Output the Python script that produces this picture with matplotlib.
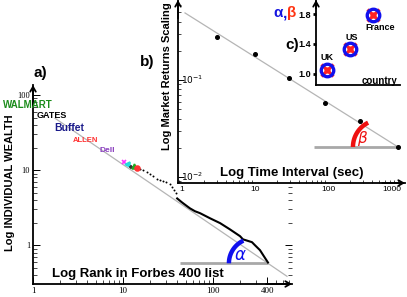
import numpy as np
import matplotlib
matplotlib.use('Agg')
import matplotlib.pyplot as plt
from matplotlib.ticker import LogLocator, NullFormatter

W, H = 407, 297
plt.rcParams['font.family'] = ['Liberation Sans', 'DejaVu Sans']

# ---------------- data ----------------
# Panel a: Forbes 400 wealth (billions) vs rank
rank_top = [15.4, 16.7, 18.5, 20, 21.5, 23.9, 25.8, 27.8, 30, 33, 35, 36.8, 38.8]
wealth_top = [10.3, 10.0, 9.4, 8.8, 8.3, 7.6, 7.4, 7.1, 6.9, 6.5, 5.9, 5.4, 4.9]
rank_tail = [40, 45, 50, 55.5, 63, 72, 92.5, 120, 154, 200, 215, 271, 293, 333, 369, 408]
wealth_tail = [4.2, 3.74, 3.4, 3.1, 2.84, 2.67, 2.29, 1.97, 1.63, 1.32, 1.2, 1.1, 1.0, 0.86, 0.71, 0.59]
mark_rank = [10.3, 11.1, 12.3, 13.2, 14.3]
mark_wealth = [12.8, 12.0, 11.0, 11.3, 10.6]
fit_a_rank = [1.76, 664]
fit_a_wealth = [49, 0.386]
base_a_rank = [43, 408]
base_a_wealth = [0.58, 0.58]
a_xticks = [1, 10, 100, 400]
a_xlabels = ['1', '10', '100', '400']
a_yticks = [1, 10, 100]
a_ylabels = ['1', '10', '100']

# Panel b: market returns scaling vs time interval
interval = [3.0, 10, 29, 91, 274, 910]
scaling = [0.277, 0.185, 0.105, 0.058, 0.038, 0.0204]
fit_b_x = [1.1, 910]
fit_b_y = [0.491, 0.0204]
base_b_x = [64, 910]
base_b_y = [0.0204, 0.0204]
b_xticks = [1, 10, 100, 1000]
b_xlabels = ['1', '10', '100', '1000']

# Panel c: exponents by country
countries = ['UK', 'US', 'France']
exponent = [1.05, 1.33, 1.79]
c_yticks = [1.0, 1.4, 1.8]
c_ylabels = ['1.0', '1.4', '1.8']

fig = plt.figure(figsize=(W / 100, H / 100), dpi=100)
fig.patch.set_facecolor('white')


def fx(x):
    return x / W


def fy(y):
    return 1 - y / H


def axis_arrows(ax, xarrow=True, yarrow=True):
    kw = dict(arrowstyle='->,head_length=0.35,head_width=0.2', lw=1.3, color='black',
              shrinkA=0, shrinkB=0)
    if yarrow:
        ax.annotate('', xy=(0, 1.0), xytext=(0, 0.9), xycoords='axes fraction',
                    arrowprops=kw, annotation_clip=False)
    if xarrow:
        ax.annotate('', xy=(1.0, 0), xytext=(0.9, 0), xycoords='axes fraction',
                    arrowprops=kw, annotation_clip=False)


def arc(ax, cx, cy, r, t1, t2, **kw):
    fig.canvas.draw()
    c = ax.transData.transform((cx, cy))
    t = np.radians(np.linspace(t1, t2, 60))
    pts = np.column_stack([c[0] + r * np.cos(t), c[1] + r * np.sin(t)])
    d = ax.transData.inverted().transform(pts)
    ax.plot(d[:, 0], d[:, 1], solid_capstyle='butt', clip_on=False, **kw)


# ---------------- panel a ----------------
ax = fig.add_axes([fx(33), fy(284), fx(292 - 33), (284 - 85) / H])
ax.set_xscale('log')
ax.set_yscale('log')
ax.set_xlim(1, 755)
ax.set_ylim(0.305, 136)
for s in ['top', 'right']:
    ax.spines[s].set_visible(False)
for s in ['left', 'bottom']:
    ax.spines[s].set_linewidth(1.3)
ax.plot(fit_a_rank, fit_a_wealth, color='#b5b5b5', lw=0.9, zorder=1)
ax.plot(base_a_rank, base_a_wealth, color='#a8a8a8', lw=2, zorder=1, solid_capstyle='butt')
ax.plot(rank_top, wealth_top, 'o', color='black', ms=1.4, mew=0, zorder=3)
ax.plot(rank_tail, wealth_tail, '-', color='black', lw=1.5, zorder=3)
mstyles = [('x', '#ff33ff'), ('<', '#22dddd'), ('+', '#333333'), ('^', '#22aa22'), ('o', '#ff3333')]
for (m, col), xr, yw in zip(mstyles, mark_rank, mark_wealth):
    ax.plot([xr], [yw], m, color=col, ms=3.5, mew=1.2, zorder=4)
ax.set_xticks(a_xticks)
ax.set_xticklabels(a_xlabels)
ax.set_yticks(a_yticks)
ax.set_yticklabels(a_ylabels)
ax.xaxis.set_minor_locator(LogLocator(base=10, subs=np.arange(2, 10)))
ax.yaxis.set_minor_locator(LogLocator(base=10, subs=np.arange(2, 10)))
ax.xaxis.set_minor_formatter(NullFormatter())
ax.yaxis.set_minor_formatter(NullFormatter())
ax.tick_params(which='major', direction='in', length=5, width=0.7, labelsize=6.5, pad=2)
ax.tick_params(axis='y', which='major', labelsize=6)
ax.tick_params(which='minor', direction='in', length=3, width=0.5)
ax.tick_params(axis='y', which='both', right=True)
for lab in ax.get_xticklabels() + ax.get_yticklabels():
    lab.set_family(['Liberation Serif', 'DejaVu Serif'])
axis_arrows(ax)
arc(ax, 285, 0.575, 25, 180, 115, color='#1010ee', lw=3.2, zorder=5)
ax.text(fx(240), fy(255), '$\\alpha$', transform=fig.transFigure, color='#1010ee',
        fontsize=12, ha='center', va='center')

# ---------------- panel b ----------------
bx = fig.add_axes([fx(178), fy(183), fx(405 - 178), 183 / H])
bx.set_facecolor('white')
bx.set_xscale('log')
bx.set_yscale('log')
bx.set_xlim(10 ** (-4 / 73), 10 ** ((405 - 182) / 73))
bx.set_ylim(10 ** (-2 - 6 / 97), 10 ** (-1 + 80 / 97))
for s in ['top', 'right']:
    bx.spines[s].set_visible(False)
for s in ['left', 'bottom']:
    bx.spines[s].set_linewidth(1.3)
bx.plot(fit_b_x, fit_b_y, color='#b5b5b5', lw=0.9, zorder=1)
bx.plot(base_b_x, base_b_y, color='#a8a8a8', lw=2, zorder=1, solid_capstyle='butt')
bx.plot(interval, scaling, 'o', color='black', ms=2.6, zorder=3)
bx.set_xticks(b_xticks)
bx.set_xticklabels(b_xlabels)
bx.set_yticks([0.01, 0.1])
bx.set_yticklabels(['$10^{-2}$', '$10^{-1}$'])
bx.xaxis.set_minor_locator(LogLocator(base=10, subs=np.arange(2, 10)))
bx.yaxis.set_minor_locator(LogLocator(base=10, subs=np.arange(2, 10)))
bx.xaxis.set_minor_formatter(NullFormatter())
bx.yaxis.set_minor_formatter(NullFormatter())
bx.tick_params(which='major', direction='in', length=4, width=0.7, labelsize=6.5)
bx.tick_params(which='minor', direction='in', length=2.5, width=0.5)
bx.tick_params(axis='x', which='major', length=0, pad=2, labelsize=6)
bx.tick_params(axis='y', which='major', pad=-2)
for lab in bx.get_yticklabels():
    lab.set_ha('left')
    lab.set_va('center')
bx.get_xticklabels()[-1].set_ha('right')
axis_arrows(bx)
arc(bx, 515, 0.0204, 27, 180, 116, color='#ee1111', lw=3.2, zorder=5)
bx.text(fx(363), fy(138), '$\\beta$', transform=fig.transFigure, color='#ee1111',
        fontsize=11, ha='center', va='center')

# ---------------- panel c ----------------
cx = fig.add_axes([fx(316), fy(85), fx(400 - 316), 85 / H])
cx.set_facecolor('white')
cx.set_xlim(-0.478, 3.17)
cx.set_ylim(0.853, 1.987)
for s in ['top', 'right']:
    cx.spines[s].set_visible(False)
for s in ['left', 'bottom']:
    cx.spines[s].set_linewidth(1.3)
xpos = np.arange(len(countries))
cx.plot(xpos, exponent, 'x', color='#ff2222', ms=9, mew=2.2, zorder=2)
cx.plot(xpos, exponent, 'o', mfc='none', mec='#1111ee', ms=9, mew=2.4, zorder=3)
cx.plot(xpos, exponent, 'o', color='#ff2222', ms=3.5, zorder=4)
cx.set_xticks([])
cx.set_yticks(c_yticks)
cx.set_yticklabels(c_ylabels, fontweight='bold')
cx.tick_params(axis='y', direction='out', length=2.5, width=2, labelsize=6.5, pad=1)
axis_arrows(cx, xarrow=False)
cx.text(fx(327), fy(58), countries[0], transform=fig.transFigure, fontsize=6.5,
        fontweight='bold', ha='center', va='center')
cx.text(fx(352), fy(38), countries[1], transform=fig.transFigure, fontsize=6.5,
        fontweight='bold', ha='center', va='center')
cx.text(fx(380), fy(28), countries[2], transform=fig.transFigure, fontsize=6.5,
        fontweight='bold', ha='center', va='center')
cx.text(fx(379), fy(81), 'country', transform=fig.transFigure, fontsize=7,
        fontweight='bold', ha='center', va='center')

# ---------------- figure texts ----------------
fig.text(fx(40), fy(73), 'a)', fontsize=11, fontweight='bold', ha='center', va='center')
fig.text(fx(147), fy(62), 'b)', fontsize=11, fontweight='bold', ha='center', va='center')
fig.text(fx(292), fy(45), 'c)', fontsize=11, fontweight='bold', ha='center', va='center')
fig.text(fx(278), fy(13), '\u03b1', fontsize=11, fontweight='bold', color='#1515e0',
         ha='center', va='center')
fig.text(fx(285.5), fy(14), ',', fontsize=11, fontweight='bold', color='#1515e0',
         ha='center', va='center')
fig.text(fx(292), fy(13), '\u03b2', fontsize=11, fontweight='bold', color='#ff3311',
         ha='center', va='center')
fig.text(fx(10), fy(183), 'Log INDIVIDUAL WEALTH', rotation=90, fontsize=8,
         fontweight='bold', ha='center', va='center')
fig.text(fx(167), fy(76), 'Log Market Returns Scaling', rotation=90, fontsize=8,
         fontweight='bold', ha='center', va='center')
fig.text(fx(292), fy(173), 'Log Time Interval (sec)', fontsize=9.5, fontweight='bold',
         ha='center', va='center')
fig.text(fx(138), fy(274), 'Log Rank in Forbes 400 list', fontsize=9.5, fontweight='bold',
         ha='center', va='center')
fig.text(fx(3), fy(104.5), 'WALMART', fontsize=7, fontweight='bold', color='#1b8c1b',
         ha='left', va='center')
fig.text(fx(37), fy(115), 'GATES', fontsize=6.5, fontweight='bold', color='black',
         ha='left', va='center')
fig.text(fx(54), fy(128), 'Buffet', fontsize=7.5, fontweight='bold', color='#1a1a8a',
         ha='left', va='center')
fig.text(fx(73), fy(140), 'ALLEN', fontsize=5.5, fontweight='bold', color='#ff3333',
         ha='left', va='center')
fig.text(fx(99), fy(151), 'Dell', fontsize=6, fontweight='bold', color='#8a3fbf',
         ha='left', va='center')

fig.savefig('out.png', dpi=100, facecolor='white')
